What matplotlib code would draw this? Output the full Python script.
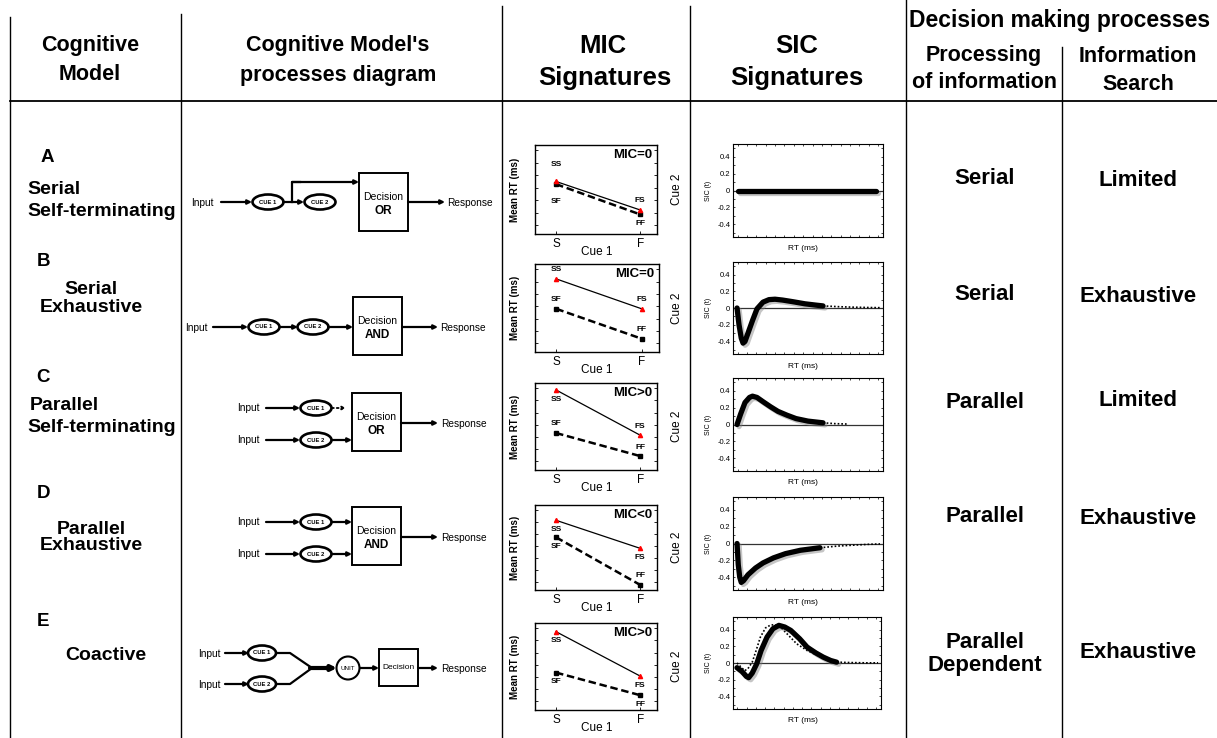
import matplotlib
matplotlib.use('Agg')
import matplotlib.pyplot as plt
import matplotlib.patches as mpatches
import matplotlib.patheffects as pe
import numpy as np

plt.rcParams['font.family'] = ['Liberation Sans', 'DejaVu Sans']

W, H = 1217, 738

# table content
model_letters = ["A", "B", "C", "D", "E"]
model_names = [["Serial", "Self-terminating"], ["Serial", "Exhaustive"],
               ["Parallel", "Self-terminating"], ["Parallel", "Exhaustive"], ["Coactive"]]
processing = [["Serial"], ["Serial"], ["Parallel"], ["Parallel"], ["Parallel", "Dependent"]]
search = ["Limited", "Exhaustive", "Limited", "Exhaustive", "Exhaustive"]

# MIC panels: mean RT (arbitrary units) for the four factorial conditions
mic_text = ["MIC=0", "MIC=0", "MIC>0", "MIC<0", "MIC>0"]
cue1_levels = ["S", "F"]
rt_ss = [5.9, 8.3, 9.2, 8.2, 9.0]
rt_fs = [2.7, 4.9, 4.0, 4.9, 3.9]
rt_sf = [5.6, 4.9, 4.25, 6.2, 4.3]
rt_ff = [2.2, 1.5, 1.6, 0.6, 1.7]

# SIC panels: (time, SIC), time scaled to 0..1
sic_t = [
    [0.03, 0.95],
    [0.027, 0.04, 0.055, 0.067, 0.08, 0.1, 0.13, 0.16, 0.2, 0.24, 0.28, 0.33, 0.4, 0.48, 0.55, 0.6],
    [0.027, 0.05, 0.08, 0.11, 0.13, 0.16, 0.2, 0.25, 0.3, 0.36, 0.42, 0.5, 0.6],
    [0.027, 0.035, 0.045, 0.055, 0.07, 0.1, 0.15, 0.2, 0.27, 0.35, 0.45, 0.58],
    [0.027, 0.06, 0.09, 0.106, 0.13, 0.16, 0.19, 0.23, 0.27, 0.31, 0.35, 0.39, 0.45, 0.5, 0.56,
     0.61, 0.66, 0.70],
]
sic_v = [
    [0.0, 0.0],
    [0.0, -0.2, -0.36, -0.42, -0.4, -0.3, -0.15, -0.01, 0.07, 0.1, 0.105, 0.095, 0.075, 0.05, 0.035, 0.025],
    [0.0, 0.12, 0.26, 0.32, 0.335, 0.32, 0.27, 0.21, 0.155, 0.11, 0.07, 0.04, 0.02],
    [0.0, -0.25, -0.4, -0.46, -0.44, -0.37, -0.29, -0.23, -0.17, -0.12, -0.08, -0.05],
    [-0.056, -0.1, -0.16, -0.175, -0.12, -0.01, 0.15, 0.31, 0.41, 0.45, 0.43, 0.39, 0.29, 0.19, 0.12,
     0.07, 0.03, 0.01],
]
# dotted continuations
tail_t = [
    [],
    [0.6, 0.7, 0.8, 0.9, 0.98],
    [0.6, 0.68, 0.77],
    [0.58, 0.7, 0.8, 0.9, 0.98],
    [0.027, 0.06, 0.08, 0.1, 0.13, 0.16, 0.185, 0.22, 0.25, 0.28, 0.32, 0.37, 0.43, 0.5, 0.57,
     0.64, 0.70, 0.8, 0.9, 0.98],
]
tail_v = [
    [],
    [0.025, 0.016, 0.01, 0.006, 0.004],
    [0.02, 0.01, 0.005],
    [-0.05, -0.03, -0.02, -0.01, -0.005],
    [0.0, -0.06, -0.09, -0.07, 0.01, 0.17, 0.31, 0.42, 0.45, 0.46, 0.43, 0.34, 0.23, 0.15, 0.09,
     0.04, 0.01, 0.005, 0.002, 0.002],
]

fig = plt.figure(figsize=(W / 100, H / 100), dpi=100)
ax = fig.add_axes([0, 0, 1, 1])
ax.set_xlim(0, W)
ax.set_ylim(H, 0)
ax.axis('off')


def box_axes(x0, y0, x1, y1):
    return fig.add_axes([x0 / W, 1 - y1 / H, (x1 - x0) / W, (y1 - y0) / H])


# grid lines of the table
for x, y0 in [(10, 17), (181, 14), (502, 6), (690, 6), (906, 0), (1062, 47)]:
    ax.plot([x, x], [y0, H], color='k', lw=1)
ax.plot([10, W], [101, 101], color='k', lw=1.3)

hd = dict(ha='center', va='center', fontweight='bold')
ax.text(90, 45, "Cognitive", fontsize=15.5, **hd)
ax.text(90, 75, "Model", fontsize=15.5, **hd)
ax.text(338, 45, "Cognitive Model's", fontsize=15.5, **hd)
ax.text(338, 75, "processes diagram", fontsize=15.5, **hd)
ax.text(603, 46, "MIC", fontsize=18.5, **hd)
ax.text(605, 78, "Signatures", fontsize=18.5, **hd)
ax.text(797, 46, "SIC", fontsize=18.5, **hd)
ax.text(797, 78, "Signatures", fontsize=18.5, **hd)
ax.text(1060, 20, "Decision making processes", fontsize=16.5, **hd)
ax.text(984, 55, "Processing", fontsize=15.5, **hd)
ax.text(984, 83, "of information", fontsize=15.5, **hd)
ax.text(1138, 57, "Information", fontsize=15.5, **hd)
ax.text(1138, 85, "Search", fontsize=15.5, **hd)

# left column
letter_y = [158, 262, 378, 493, 622]
ax.text(47, letter_y[0], model_letters[0], fontsize=13.5, **hd)
for i, y in enumerate(letter_y[1:], 1):
    ax.text(43, y, model_letters[i], fontsize=13.5, **hd)
lft = dict(fontsize=14, ha='left', va='center', fontweight='bold')
ax.text(27, 190, model_names[0][0], **lft)
ax.text(27, 211, model_names[0][1], **lft)
ax.text(91, 290, model_names[1][0], fontsize=14, **hd)
ax.text(91, 307, model_names[1][1], fontsize=14, **hd)
ax.text(30, 405, model_names[2][0], **lft)
ax.text(27, 427, model_names[2][1], **lft)
ax.text(91, 530, model_names[3][0], fontsize=14, **hd)
ax.text(91, 546, model_names[3][1], fontsize=14, **hd)
ax.text(106, 655, model_names[4][0], fontsize=14, **hd)

# right columns
proc_y = [[178], [295], [403], [517], [643, 665]]
search_y = [180, 297, 401, 518, 652]
for i in range(5):
    for txt, y in zip(processing[i], proc_y[i]):
        ax.text(985, y, txt, fontsize=16, **hd)
    ax.text(1138, search_y[i], search[i], fontsize=16, **hd)


# process diagrams
def arrow(x0, y0, x1, y1, ls='-', lw=1.6, ms=6):
    ax.annotate('', xy=(x1, y1), xytext=(x0, y0),
                arrowprops=dict(arrowstyle='-|>', lw=lw, color='k', linestyle=ls,
                                mutation_scale=ms, shrinkA=0, shrinkB=0))


def cue(x, y, label, w=31):
    ax.add_patch(mpatches.Ellipse((x, y), w, 15, fc='white', ec='k', lw=1.9, zorder=3))
    ax.text(x, y, label, fontsize=4.2, ha='center', va='center', fontweight='bold', zorder=4)


def decision(x0, y0, x1, y1, rule=None, fs=7.5):
    ax.add_patch(mpatches.Rectangle((x0, y0), x1 - x0, y1 - y0, fc='white', ec='k', lw=1.4))
    xc = (x0 + x1) / 2
    if rule is None:
        ax.text(xc, (y0 + y1) / 2, "Decision", fontsize=fs, ha='center', va='center')
    else:
        yc = (y0 + y1) / 2
        ax.text(xc, yc - 5, "Decision", fontsize=fs, ha='center', va='center')
        ax.text(xc, yc + 9, rule, fontsize=8.5, ha='center', va='center', fontweight='bold')


small = dict(fontsize=7.3, va='center')

# A: serial self-terminating
ax.text(202, 203, "Input", ha='center', **small)
arrow(221, 202, 252, 202)
cue(268, 202, "CUE 1")
arrow(283, 202, 304, 202)
cue(320, 202, "CUE 2")
ax.plot([292, 292, 300], [202, 182, 182], color='k', lw=1.6)
arrow(292, 182, 359, 182)
decision(359, 173, 408, 231, "OR")
arrow(408, 202, 445, 202)
ax.text(447, 203, "Response", ha='left', **small)

# B: serial exhaustive
ax.text(196, 328, "Input", ha='center', **small)
arrow(213, 327, 248, 327)
cue(264, 327, "CUE 1")
arrow(280, 327, 298, 327)
cue(313, 327, "CUE 2")
arrow(328, 327, 353, 327)
decision(353, 297, 402, 355, "AND")
arrow(402, 327, 438, 327)
ax.text(440, 328, "Response", ha='left', **small)

# C and D: parallel
for dy, rule, dotted in [(0, "OR", True), (114, "AND", False)]:
    y1, y2 = 408 + dy, 440 + dy
    ax.text(248, y1, "Input", ha='center', **small)
    ax.text(248, y2, "Input", ha='center', **small)
    arrow(266, y1, 300, y1)
    arrow(266, y2, 300, y2)
    cue(316, y1, "CUE 1")
    cue(316, y2, "CUE 2")
    if dotted:
        arrow(332, y1, 346, y1, ls=':', lw=1.3, ms=5)
    else:
        arrow(332, y1, 352, y1)
    arrow(332, y2, 352, y2)
    decision(352, 393 + dy, 401, 451 + dy, rule)
    arrow(401, 423 + dy, 438, 423 + dy)
    ax.text(441, 424 + dy, "Response", ha='left', **small)

# E: coactive
ax.text(209, 654, "Input", ha='center', **small)
ax.text(209, 685, "Input", ha='center', **small)
arrow(225, 653, 249, 653)
arrow(225, 684, 249, 684)
cue(262, 653, "CUE 1", w=28)
cue(262, 684, "CUE 2", w=28)
ax.plot([276, 290, 312], [653, 653, 668], color='k', lw=1.6)
ax.plot([276, 290, 312], [684, 684, 668], color='k', lw=1.6)
arrow(310, 668, 337, 668, lw=3, ms=7)
ax.add_patch(mpatches.Circle((348, 668), 11.5, fc='white', ec='k', lw=1.5, zorder=3))
ax.text(348, 668, "UNIT", fontsize=4.5, ha='center', va='center', zorder=4)
arrow(360, 668, 379, 668)
decision(379, 649, 418, 686, None, fs=6)
arrow(418, 668, 438, 668)
ax.text(441, 669, "Response", ha='left', **small)

# MIC panels
mic_boxes = [(535, 145, 657, 234), (535, 264, 659, 352), (535, 383, 657, 470),
             (535, 505, 657, 590), (535, 623, 657, 710)]
# where each point label sits: +1 above the marker, -1 below
ss_side = [1, 1, -1, -1, -1]
sf_side = [-1, 1, 1, -1, -1]
fs_side = [1, 1, 1, -1, -1]
ff_side = [-1, 1, 1, 1, -1]
lab = dict(fontsize=6, fontweight='bold', ha='center', textcoords='offset points')
for i, (x0, y0, x1, y1) in enumerate(mic_boxes):
    m = box_axes(x0, y0, x1, y1)
    xs = [0, 1]
    m.plot(xs, [rt_sf[i], rt_ff[i]], color='k', lw=1.8, ls=(0, (3, 1.5)), marker='s', ms=3)
    m.plot(xs, [rt_ss[i], rt_fs[i]], color='k', lw=0.9)
    m.plot(xs, [rt_ss[i], rt_fs[i]], ls='none', marker='^', ms=3, color='red')
    m.set_xlim(-0.25, 1.2)
    m.set_ylim(0, 10)
    m.set_xticks(xs)
    m.set_xticklabels(cue1_levels, fontsize=8.5)
    m.set_yticks(np.arange(1, 10, 1.4))
    m.set_yticklabels([])
    m.tick_params(axis='y', direction='in', left=True, right=True, length=2, width=0.6)
    m.tick_params(axis='x', direction='in', length=2, width=0.6, pad=3)
    for s in m.spines.values():
        s.set_linewidth(1)
    for name, xv, yv, side in [("SS", 0, rt_ss[i], ss_side[i]), ("SF", 0, rt_sf[i], sf_side[i]),
                               ("FS", 1, rt_fs[i], fs_side[i]), ("FF", 1, rt_ff[i], ff_side[i])]:
        dyp = 4 if side > 0 else -4
        off = 6 if (name == "SS" and i == 0) or (name == "SF" and i == 0) else 0
        m.annotate(name, (xv, yv), xytext=(0, dyp + (off if side > 0 else -off)),
                   va='bottom' if side > 0 else 'top', **lab)
    m.text(0.96, 0.95, mic_text[i], transform=m.transAxes, fontsize=9.5, fontweight='bold',
           ha='right', va='top')
    ax.text(597, y1 + 18, "Cue 1", fontsize=8.5, ha='center', va='center')
    ax.text(515, (y0 + y1) / 2, "Mean RT (ms)", fontsize=7, fontweight='bold', rotation=90,
            ha='center', va='center')
    ax.text(677, (y0 + y1) / 2, "Cue 2", fontsize=8.5, rotation=90, ha='center', va='center')

# SIC panels
sic_boxes = [(733, 144, 883, 237), (733, 262, 883, 354), (733, 378, 883, 471),
             (733, 497, 883, 590), (733, 617, 881, 709)]
shadow = [pe.SimpleLineShadow(offset=(1.5, -1.5), shadow_color='gray', alpha=0.45), pe.Normal()]
for i, (x0, y0, x1, y1) in enumerate(sic_boxes):
    s = box_axes(x0, y0, x1, y1)
    s.axhline(0, color='#333333', lw=0.9)
    s.plot(sic_t[i], sic_v[i], color='k', lw=3.8, solid_capstyle='round', path_effects=shadow,
           zorder=3)
    if tail_t[i]:
        s.plot(tail_t[i], tail_v[i], color='k', lw=1.2, ls=(0, (1, 1.2)), zorder=2)
    s.set_xlim(0, 1)
    s.set_ylim(-0.55, 0.55)
    s.set_yticks([-0.4, -0.2, 0, 0.2, 0.4])
    s.set_yticklabels(["-0.4", "-0.2", "0", "0.2", "0.4"], fontsize=5.5)
    s.set_yticks(np.arange(-0.5, 0.55, 0.1), minor=True)
    s.set_xticks(np.arange(0.03, 1.0, 0.0625))
    s.set_xticklabels([])
    s.tick_params(which='both', direction='in', length=1.5, width=0.5, top=True, right=True,
                  pad=2)
    for sp in s.spines.values():
        sp.set_linewidth(0.8)
    ax.text(803, y1 + 12, "RT (ms)", fontsize=6, ha='center', va='center')
    ax.text(708, (y0 + y1) / 2, "SIC (t)", fontsize=5, rotation=90, ha='center', va='center')

fig.savefig('out.png', dpi=100)
